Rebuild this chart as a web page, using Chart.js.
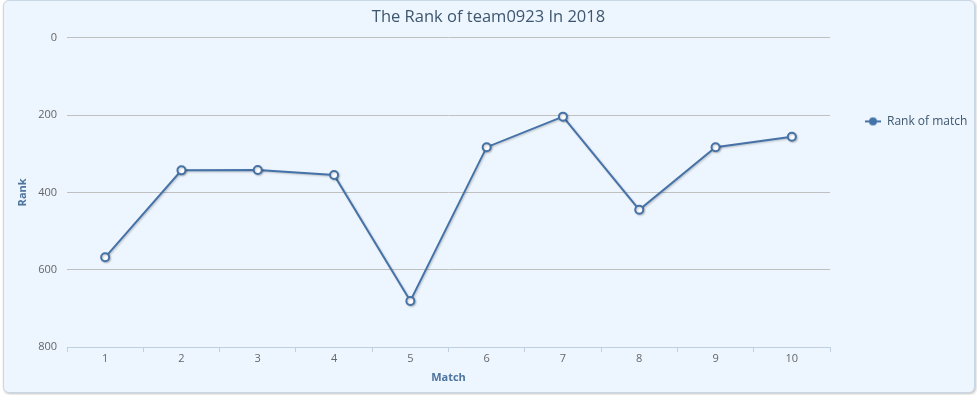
<!DOCTYPE html>
<html>
<head>
<meta charset="utf-8">
<script src="https://cdn.jsdelivr.net/npm/chart.js@4/dist/chart.umd.min.js"></script>
<style>
  html, body { margin: 0; padding: 0; background: #ffffff; }
  #frame {
    position: absolute; left: 3px; top: 0px; width: 970px; height: 391px;
    background: #edf5fe; border: 1px solid #c9d6e4; border-radius: 6px;
    box-shadow: 1px 1px 3px rgba(0,0,0,0.25);
  }
  #wrap { position: absolute; left: 0; top: 0; width: 977px; height: 395px; }
</style>
</head>
<body>
<div id="frame"></div>
<div id="wrap"><canvas id="c" width="977" height="395"></canvas></div>
<script>
const titleText = 'The Rank of team0923 In 2018';
const categories = ['1', '2', '3', '4', '5', '6', '7', '8', '9', '10'];
const seriesName = 'Rank of match';
const rankValues = [568, 343, 342, 355, 681, 283, 204, 445, 283, 256];
const yTicks = [0, 200, 400, 600, 800];
const xTitle = 'Match';
const yTitle = 'Rank';

const lineColor = '#4572a7';

// legend marker: line with filled circle
const marker = document.createElement('canvas');
marker.width = 16; marker.height = 10;
(function () {
  const m = marker.getContext('2d');
  m.strokeStyle = lineColor; m.lineWidth = 2;
  m.beginPath(); m.moveTo(0, 5); m.lineTo(16, 5); m.stroke();
  m.fillStyle = lineColor;
  m.beginPath(); m.arc(8, 5, 4, 0, Math.PI * 2); m.fill();
})();

const shadowPlugin = {
  id: 'lineShadow',
  beforeDatasetDraw(chart) {
    const ctx = chart.ctx;
    ctx.save();
    ctx.shadowColor = 'rgba(0,0,0,0.22)';
    ctx.shadowOffsetX = 1;
    ctx.shadowOffsetY = 1;
    ctx.shadowBlur = 2;
  },
  afterDatasetDraw(chart) {
    chart.ctx.restore();
  }
};

new Chart(document.getElementById('c'), {
  type: 'line',
  data: {
    labels: categories,
    datasets: [{
      label: seriesName,
      data: rankValues,
      borderColor: lineColor,
      backgroundColor: '#ffffff',
      borderWidth: 2,
      pointRadius: 4,
      pointBorderWidth: 2,
      pointBorderColor: lineColor,
      pointBackgroundColor: '#ffffff',
      pointStyle: 'circle',
      tension: 0,
      fill: false
    }]
  },
  plugins: [shadowPlugin],
  options: {
    responsive: false,
    animation: false,
    layout: { padding: { left: 0, right: 0, top: 0, bottom: 0 } },
    plugins: {
      title: {
        display: true,
        text: titleText,
        color: '#3e576f',
        font: { family: 'Open Sans', size: 16.5, weight: 'normal' },
        padding: { top: 7, bottom: 11 }
      },
      legend: {
        display: true,
        position: 'right',
        align: 'start',
        maxWidth: 147,
        title: { display: true, text: ' ', color: 'rgba(0,0,0,0)', font: { size: 12 }, padding: { top: 34, bottom: 32 } },
        labels: {
          usePointStyle: true,
          pointStyleWidth: 16,
          padding: 35,
          color: '#3e576f',
          font: { family: 'Open Sans', size: 12 },
          generateLabels(chart) {
            return [{
              text: seriesName,
              pointStyle: marker,
              fillStyle: lineColor,
              strokeStyle: lineColor,
              lineWidth: 0,
              hidden: false,
              datasetIndex: 0,
              fontColor: '#3e576f'
            }];
          }
        }
      },
      tooltip: { enabled: false }
    },
    scales: {
      x: {
        offset: true,
        grid: {
          offset: true,
          drawOnChartArea: false,
          drawTicks: true,
          tickLength: 5,
          color: '#c0d0e0'
        },
        border: { display: true, color: '#c0d0e0', width: 1 },
        ticks: {
          color: '#666666',
          font: { family: 'Open Sans', size: 11 },
          padding: 0,
          maxRotation: 0
        },
        title: {
          display: true,
          text: xTitle,
          color: '#4d759e',
          font: { family: 'Open Sans', size: 11, weight: 'bold' },
          padding: { top: 0, bottom: 11 }
        },
        afterFit(scale) { scale.height = 48; }
      },
      y: {
        reverse: true,
        min: 0,
        max: 800,
        afterBuildTicks(scale) { scale.ticks = yTicks.map(v => ({ value: v })); },
        grid: { color: '#c0c0c0', drawTicks: false, lineWidth: 1 },
        border: { display: false },
        ticks: {
          color: '#666666',
          font: { family: 'Open Sans', size: 11 },
          padding: 10
        },
        title: {
          display: true,
          text: yTitle,
          color: '#4d759e',
          font: { family: 'Open Sans', size: 11, weight: 'bold' },
          padding: { top: 16, bottom: 0 }
        },
        afterFit(scale) { scale.width = 67; }
      }
    }
  }
});
</script>
</body>
</html>
